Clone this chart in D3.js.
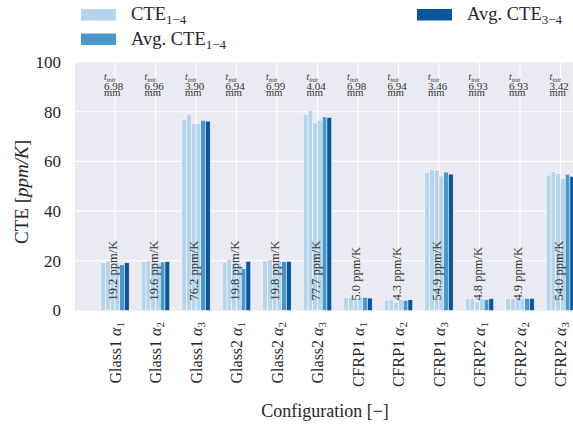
<!DOCTYPE html>
<html>
<head>
<meta charset="utf-8">
<script src="https://cdn.jsdelivr.net/npm/d3@7/dist/d3.min.js"></script>
<style>
  html, body { margin: 0; padding: 0; background: #ffffff; }
  svg { display: block; }
  text { font-family: "Liberation Serif", "Times New Roman", serif; fill: #262626; }
</style>
</head>
<body>
<svg id="chart" width="573" height="428"></svg>
<script>
// Specimen configurations (material + orientation index)
const categories = ["Glass1 α1", "Glass1 α2", "Glass1 α3",
                    "Glass2 α1", "Glass2 α2", "Glass2 α3",
                    "CFRP1 α1", "CFRP1 α2", "CFRP1 α3",
                    "CFRP2 α1", "CFRP2 α2", "CFRP2 α3"];

// Individual CTE measurements 1..4 (ppm/K)
const cte1 = [19.2, 19.7, 76.9, 19.5, 19.9, 78.9, 5.3, 4.2, 55.6, 4.9, 4.8, 54.5];
const cte2 = [19.9, 20.0, 79.0, 20.6, 20.4, 80.6, 5.3, 4.5, 56.7, 4.9, 4.8, 55.9];
const cte3 = [15.4, 19.1, 75.2, 19.0, 18.5, 75.5, 5.2, 3.2, 56.5, 3.4, 5.1, 55.2];
const cte4 = [19.2, 19.1, 75.2, 19.0, 20.0, 76.6, 5.3, 4.4, 54.1, 4.8, 4.9, 53.2];
// Averages
const avgCte14 = [18.4, 19.5, 76.5, 16.8, 19.7, 77.9, 5.3, 4.1, 55.7, 4.4, 4.9, 54.8];
const avgCte34 = [19.2, 19.6, 76.2, 19.8, 19.8, 77.7, 5.0, 4.3, 54.9, 4.8, 4.9, 54.0];
// Initial specimen thickness (mm)
const tInit = ["6.98", "6.96", "3.90", "6.94", "6.99", "4.04",
               "6.98", "6.94", "3.46", "6.93", "6.93", "3.42"];

const yTicks = [0, 20, 40, 60, 80, 100];

const cLight = "#b7d4ea", cMid = "#4a98c9", cDark = "#0b559f";
const seriesColors = [cLight, cLight, cLight, cLight, cMid, cDark];
const series = [cte1, cte2, cte3, cte4, avgCte14, avgCte34];

const svg = d3.select("#chart");

const plot = { left: 75, right: 600, top: 62, bottom: 310.5 };

const y = d3.scaleLinear().domain([0, 100]).range([plot.bottom, plot.top]);
const x = d3.scaleLinear().domain([0, categories.length - 1]).range([115, 560.5]);
const groupW = (x(1) - x(0)) * 0.7;
const barW = groupW / series.length;

// Axes background
svg.append("rect")
  .attr("x", plot.left).attr("y", plot.top)
  .attr("width", plot.right - plot.left).attr("height", plot.bottom - plot.top)
  .attr("fill", "#eaeaf2");

// Grid lines
const grid = svg.append("g").attr("stroke", "#ffffff").attr("stroke-width", 1.1);
yTicks.filter(t => t > 0).forEach(t => {
  grid.append("line").attr("x1", plot.left).attr("x2", plot.right)
    .attr("y1", y(t)).attr("y2", y(t));
});
categories.forEach((c, i) => {
  grid.append("line").attr("x1", x(i)).attr("x2", x(i))
    .attr("y1", plot.top).attr("y2", plot.bottom);
});

// Bars
const bars = svg.append("g");
series.forEach((vals, s) => {
  bars.selectAll(null).data(vals).enter().append("rect")
    .attr("x", (d, i) => x(i) - groupW / 2 + s * barW)
    .attr("y", d => y(d))
    .attr("width", barW)
    .attr("height", d => y(0) - y(d))
    .attr("fill", seriesColors[s])
    .attr("stroke", "#ffffff")
    .attr("stroke-width", 0.5);
});

// Average value labels (rotated)
svg.append("g").selectAll("text").data(avgCte34).enter().append("text")
  .attr("transform", (d, i) => `translate(${x(i) - 2},${y(4)}) rotate(-90)`)
  .attr("dy", "0.35em")
  .attr("text-anchor", "start")
  .attr("font-size", 12.5)
  .style("fill", "#333333")
  .text(d => d.toFixed(1) + " ppm/K");

// Thickness annotations above each group (three stacked lines)
const ann = svg.append("g");
tInit.forEach((t, i) => {
  const ax = x(i) - 11;
  const tt = ann.append("text").attr("x", ax).attr("y", 80).attr("font-size", 9.5)
    .style("fill", "#333333");
  tt.append("tspan").attr("font-style", "italic").text("t");
  tt.append("tspan").attr("font-style", "italic").attr("font-size", 6.5).attr("dy", 1.5).text("init");
  tt.append("tspan").attr("x", ax).attr("dy", 8.5).attr("font-size", 11).text(t);
  tt.append("tspan").attr("x", ax).attr("dy", 6.3).attr("font-size", 10.5).text("mm");
});

// Y tick labels
svg.append("g").selectAll("text").data(yTicks).enter().append("text")
  .attr("x", 61).attr("y", d => y(d)).attr("dy", "0.35em")
  .attr("text-anchor", "end").attr("font-size", 17)
  .text(d => d);

// X tick labels (rotated)
const xt = svg.append("g").selectAll("text").data(categories).enter().append("text")
  .attr("transform", (d, i) => `translate(${x(i)},322) rotate(-90)`)
  .attr("dy", "0.35em")
  .attr("text-anchor", "end")
  .attr("font-size", 16);
xt.each(function(d) {
  const parts = d.split(" α");
  const el = d3.select(this);
  el.append("tspan").text(parts[0] + " ");
  el.append("tspan").attr("font-style", "italic").text("α");
  el.append("tspan").attr("font-size", 11).attr("dy", "0.3em").text(parts[1]);
});

// Axis titles
const yl = svg.append("text")
  .attr("transform", "translate(28,192) rotate(-90)")
  .attr("text-anchor", "middle").attr("font-size", 19);
yl.append("tspan").text("CTE [");
yl.append("tspan").attr("font-style", "italic").text("ppm/K");
yl.append("tspan").text("]");

svg.append("text")
  .attr("x", 325).attr("y", 417)
  .attr("text-anchor", "middle").attr("font-size", 18)
  .text("Configuration [−]");

// Legend
const legendItems = [
  { label: "CTE", sub: "1−4", color: cLight, x: 81, y: 9 },
  { label: "Avg. CTE", sub: "1−4", color: cMid, x: 81, y: 33.5 },
  { label: "Avg. CTE", sub: "3−4", color: cDark, x: 417, y: 9 }
];
const lg = svg.append("g");
legendItems.forEach(it => {
  lg.append("rect").attr("x", it.x).attr("y", it.y).attr("width", 35).attr("height", 11.5)
    .attr("fill", it.color);
  const t = lg.append("text").attr("x", it.x + 50).attr("y", it.y + 11).attr("font-size", 18.5);
  t.append("tspan").text(it.label);
  t.append("tspan").attr("font-size", 13).attr("dy", 4).text(it.sub);
});
</script>
</body>
</html>
